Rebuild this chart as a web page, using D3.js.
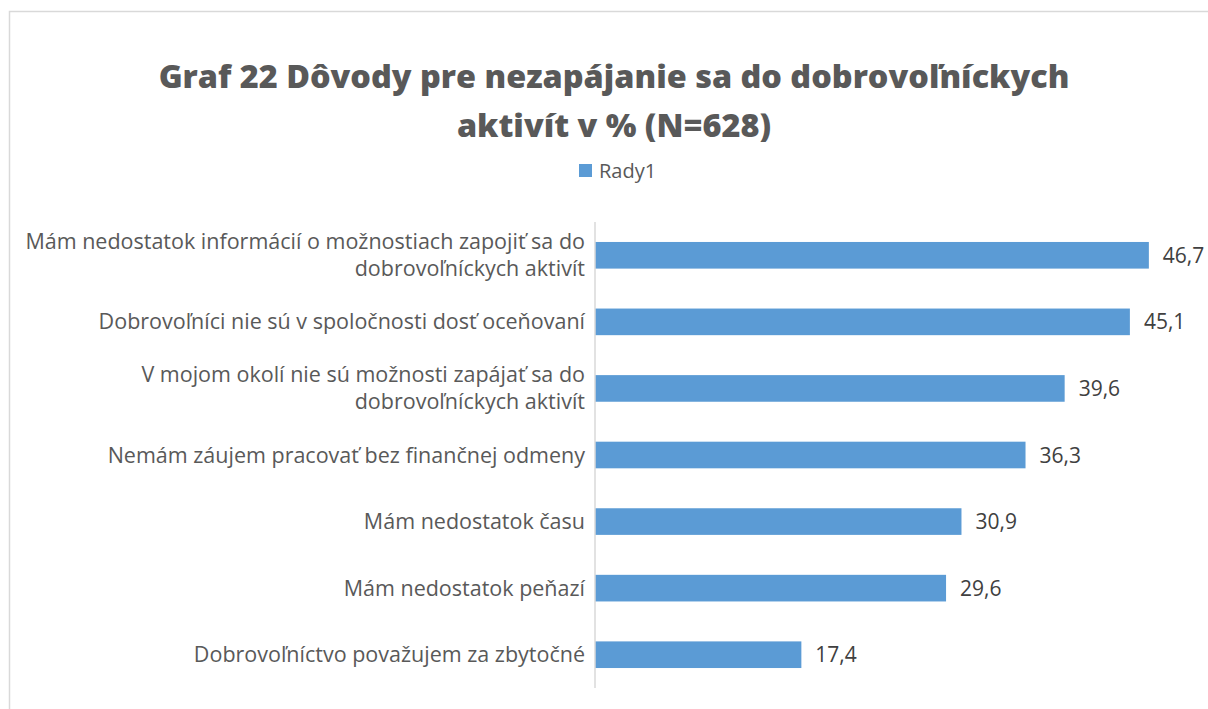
<!DOCTYPE html>
<html>
<head>
<meta charset="utf-8">
<script src="https://cdn.jsdelivr.net/npm/d3@7.9.0/dist/d3.min.js"></script>
<style>
  body { margin: 0; background: #fff; }
  svg { display: block; }
</style>
</head>
<body>
<svg id="chart" width="1208" height="709"></svg>
<script>
const categories = [
  ["Mám nedostatok informácií o možnostiach zapojiť sa do", "dobrovoľníckych aktivít"],
  ["Dobrovoľníci nie sú v spoločnosti dosť oceňovaní"],
  ["V mojom okolí nie sú možnosti zapájať sa do", "dobrovoľníckych aktivít"],
  ["Nemám záujem pracovať bez finančnej odmeny"],
  ["Mám nedostatok času"],
  ["Mám nedostatok peňazí"],
  ["Dobrovoľníctvo považujem za zbytočné"]
];
const values = [46.7, 45.1, 39.6, 36.3, 30.9, 29.6, 17.4];
const seriesName = "Rady1";
const titleLines = ["Graf 22 Dôvody pre nezapájanie sa do dobrovoľníckych", "aktivít v % (N=628)"];

const svg = d3.select("#chart");
const width = 1208, height = 709;
const font = "'Open Sans', sans-serif";

// outer chart border
svg.append("rect")
  .attr("x", 9.5).attr("y", 11.5)
  .attr("width", width).attr("height", height)
  .attr("fill", "none")
  .attr("stroke", "#d9d9d9")
  .attr("stroke-width", 1.5);

const margin = { top: 222, bottom: 21, left: 595 };

const x = d3.scaleLinear()
  .domain([0, 50])
  .range([margin.left, margin.left + 593]);

const y = d3.scaleBand()
  .domain(d3.range(categories.length))
  .range([margin.top, height - margin.bottom])
  .paddingInner(0.6)
  .paddingOuter(0.3);

// title
svg.append("text")
  .attr("x", 614)
  .attr("y", 88)
  .attr("text-anchor", "middle")
  .style("font-family", font)
  .style("font-weight", 800)
  .style("font-size", "32.4px")
  .style("fill", "#595959")
  .selectAll("tspan")
  .data(titleLines)
  .join("tspan")
  .attr("x", 614)
  .attr("dy", (d, i) => i === 0 ? 0 : 49)
  .text(d => d);

// legend
const legend = svg.append("g").attr("transform", "translate(579,164)");
legend.append("rect")
  .attr("width", 13).attr("height", 13)
  .attr("fill", "#5b9bd5");
legend.append("text")
  .attr("x", 20).attr("y", 13.5)
  .style("font-family", font)
  .style("font-size", "20px")
  .style("fill", "#595959")
  .text(seriesName);

// bars
svg.append("g")
  .selectAll("rect")
  .data(values)
  .join("rect")
  .attr("x", x(0))
  .attr("y", (d, i) => y(i))
  .attr("width", d => x(d) - x(0))
  .attr("height", y.bandwidth())
  .attr("fill", "#5b9bd5");

// value axis line
svg.append("line")
  .attr("x1", x(0)).attr("x2", x(0))
  .attr("y1", margin.top).attr("y2", height - margin.bottom)
  .attr("stroke", "#d9d9d9")
  .attr("stroke-width", 1.5);

// category labels
const labels = svg.append("g")
  .selectAll("text")
  .data(categories)
  .join("text")
  .attr("text-anchor", "end")
  .style("font-family", font)
  .style("font-size", "21.5px")
  .style("fill", "#595959")
  .attr("transform", (d, i) => `translate(585,${y(i) + y.bandwidth() / 2})`);

labels.selectAll("tspan")
  .data(d => d.map((line, j) => ({ line, j, n: d.length })))
  .join("tspan")
  .attr("x", 0)
  .attr("y", d => (d.j - (d.n - 1) / 2) * 27 + 7.5)
  .text(d => d.line);

// value labels
svg.append("g")
  .selectAll("text")
  .data(values)
  .join("text")
  .attr("x", d => x(d) + 14)
  .attr("y", (d, i) => y(i) + y.bandwidth() / 2 + 7.5)
  .style("font-family", font)
  .style("font-size", "21px")
  .style("fill", "#404040")
  .text(d => d.toFixed(1).replace(".", ","));
</script>
</body>
</html>
